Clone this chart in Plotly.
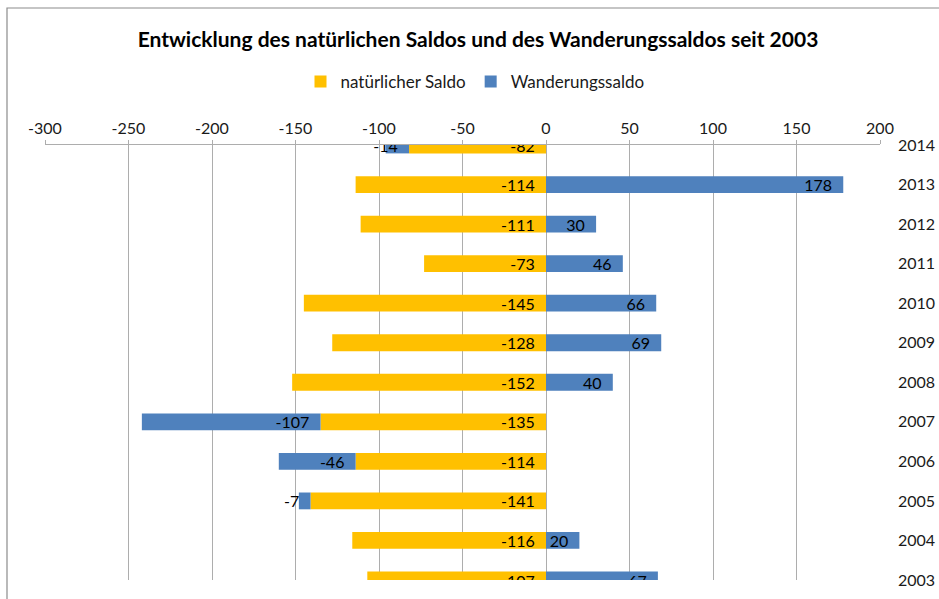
import plotly.graph_objects as go

years = ["2003", "2004", "2005", "2006", "2007", "2008", "2009", "2010", "2011", "2012", "2013", "2014"]
natuerlich = [-107, -116, -141, -114, -135, -152, -128, -145, -73, -111, -114, -82]
wanderung = [67, 20, -7, -46, -107, 40, 69, 66, 46, 30, 178, -14]
x_ticks = [-300, -250, -200, -150, -100, -50, 0, 50, 100, 150, 200]
x_ticktext = [str(v) for v in x_ticks]

YELLOW = "#FFC000"
BLUE = "#4F81BD"
GRID = "#ADADAD"
FONT = "Lato, Liberation Sans Narrow, Arial, sans-serif"
PAD = "\u00a0\u00a0"

wand_pos = [v if v > 0 else None for v in wanderung]
wand_neg = [v if v < 0 else None for v in wanderung]

common = dict(orientation="h", textposition="inside", constraintext="none", textangle=0,
              textfont=dict(family=FONT, size=16, color="#000000"))

fig = go.Figure()
fig.add_trace(go.Bar(
    y=years, x=natuerlich, name="natürlicher Saldo",
    marker=dict(color=YELLOW, line=dict(width=0)),
    text=[f"{v}{PAD}" for v in natuerlich], insidetextanchor="start",
    legendgroup="n", **common,
))
fig.add_trace(go.Bar(
    y=years, x=wand_neg, name="Wanderungssaldo",
    marker=dict(color=BLUE, line=dict(width=0)),
    text=[f"{v}{PAD}" if v is not None else "" for v in wand_neg], insidetextanchor="start",
    legendgroup="w", showlegend=False, **common,
))
fig.add_trace(go.Bar(
    y=years, x=wand_pos, name="Wanderungssaldo",
    marker=dict(color=BLUE, line=dict(width=0)),
    text=[f"{v}{PAD}" if v is not None else "" for v in wand_pos], insidetextanchor="end",
    legendgroup="w", showlegend=True, **common,
))

fig.update_layout(
    width=939, height=599,
    margin=dict(l=45, r=59, t=145, b=19, autoexpand=False),
    paper_bgcolor="white", plot_bgcolor="white",
    barmode="relative", bargap=0.575,
    font=dict(family=FONT, size=16, color="#1a1a1a"),
    title=dict(
        text="<b>Entwicklung des natürlichen Saldos und des Wanderungssaldos seit 2003</b>",
        x=478 / 939, xref="container", xanchor="center",
        y=1 - 40 / 599, yref="container", yanchor="middle",
        font=dict(family=FONT, size=21, color="#000000"),
    ),
    legend=dict(
        orientation="h", xref="container", x=475 / 939, xanchor="center",
        y=(580 - 82) / 435, yanchor="middle",
        font=dict(family=FONT, size=17, color="#1a1a1a"),
        traceorder="normal", itemwidth=30,
    ),
    xaxis=dict(
        side="top", range=[-300, 200], tickvals=x_ticks, ticktext=x_ticktext,
        showgrid=True, gridcolor=GRID, gridwidth=1,
        showline=True, linecolor=GRID, linewidth=1,
        ticks="outside", ticklen=4, tickcolor=GRID,
        zeroline=False, fixedrange=True, automargin=False,
        tickfont=dict(family=FONT, size=16, color="#1a1a1a"),
    ),
    yaxis=dict(
        type="category", categoryorder="array", categoryarray=years,
        range=[0, 11], side="right", showgrid=False, zeroline=False,
        showline=False, ticks="", ticklabelstandoff=17, automargin=False,
        tickfont=dict(family=FONT, size=16, color="#1a1a1a"),
    ),
    yaxis2=dict(
        overlaying="y", anchor="free", position=300 / 500, side="left",
        range=[0, 11], tickvals=list(range(len(years))), showticklabels=False,
        ticks="outside", ticklen=5, tickcolor=GRID, showgrid=False,
        zeroline=False, showline=False, automargin=False,
    ),
    shapes=[dict(
        type="rect", xref="paper", yref="paper",
        x0=(7 - 45) / 835, x1=(990 - 45) / 835,
        y0=(580 - 640) / 435, y1=(580 - 8) / 435,
        line=dict(color="#8C8C8C", width=1.2), fillcolor="rgba(0,0,0,0)", layer="below",
    )],
)

fig.write_html("out.html", config={"displayModeBar": False},
               post_script="document.body.style.margin='0';document.body.style.overflow='hidden';")
